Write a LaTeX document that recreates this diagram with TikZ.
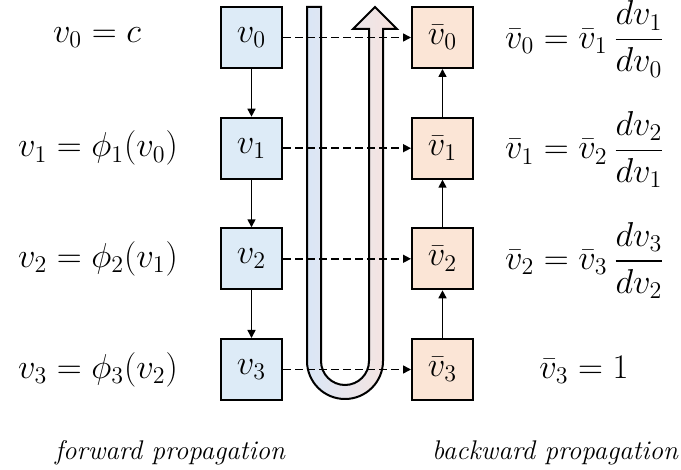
\documentclass[tikz,border=0pt]{standalone}
\usepackage{amsmath}
\usetikzlibrary{arrows.meta}
\definecolor{fwdblue}{RGB}{221,235,247}
\definecolor{bwdorange}{RGB}{251,229,214}
\definecolor{tubeblue}{RGB}{218,230,246}
\definecolor{tubepink}{RGB}{249,228,222}
\begin{document}
\begin{tikzpicture}[x=0.5pt,y=0.5pt,
  fbox/.style={draw=black,line width=1pt,fill=fwdblue,minimum size=30.5pt,inner sep=0pt,font=\fontsize{17}{20}\selectfont},
  bbox/.style={fbox,fill=bwdorange},
  eq/.style={font=\fontsize{17}{20}\selectfont,inner sep=0pt},
  lab/.style={font=\fontsize{13.5}{16}\selectfont\itshape,inner sep=0pt,anchor=base},
  vert/.style={line width=0.75pt,-{Triangle[length=4pt,width=4pt]}},
  dashline/.style={line width=0.75pt,dash pattern=on 4pt off 2pt,-{Triangle[length=4pt,width=4pt]}}
]
\useasboundingbox (0,0) rectangle (681,-470);
% U-turn tube
\path[draw=black,line width=1pt,left color=tubeblue,right color=tubepink,line join=miter]
  (307,-7) -- (307,-361) arc[start angle=180,end angle=360,radius=38]
  -- (383,-29) -- (397,-29) -- (375,-7) -- (353,-29) -- (369,-29)
  -- (369,-361) arc[start angle=0,end angle=-180,radius=24]
  -- (321,-7) -- cycle;
% boxes
\foreach \i/\y in {0/37.5,1/148.2,2/258.8,3/369.5}{
  \node[fbox] (v\i) at (251.5,-\y) {$v_{\i}$};
  \node[bbox] (b\i) at (442.5,-\y) {$\bar{v}_{\i}$};
  \draw[dashline] (v\i.east) -- (b\i.west);
}
\draw[vert] (v0) -- (v1);
\draw[vert] (v1) -- (v2);
\draw[vert] (v2) -- (v3);
\draw[vert] (b3) -- (b2);
\draw[vert] (b2) -- (b1);
\draw[vert] (b1) -- (b0);
% left equations
\node[eq] (e0) at (97,-37.5) {$v_0 = c$};
\node[eq] (e1) at (98,-148.2) {$v_1 = \phi_1(v_0)$};
\node[eq] (e2) at (98,-258.8) {$v_2 = \phi_2(v_1)$};
\node[eq] (e3) at (98,-369.5) {$v_3 = \phi_3(v_2)$};
% right equations
\node[eq] (r0) at (585,-39) {$\bar{v}_0 = \bar{v}_1\,\dfrac{dv_1}{dv_0}$};
\node[eq] (r1) at (585,-149.7) {$\bar{v}_1 = \bar{v}_2\,\dfrac{dv_2}{dv_1}$};
\node[eq] (r2) at (585,-260.3) {$\bar{v}_2 = \bar{v}_3\,\dfrac{dv_3}{dv_2}$};
\node[eq] (r3) at (584,-369.5) {$\bar{v}_3 = 1$};
% bottom labels
\node[lab] (lf) at (170,-460) {forward propagation};
\node[lab] (lb) at (555,-460) {backward propagation};
\end{tikzpicture}
\end{document}
